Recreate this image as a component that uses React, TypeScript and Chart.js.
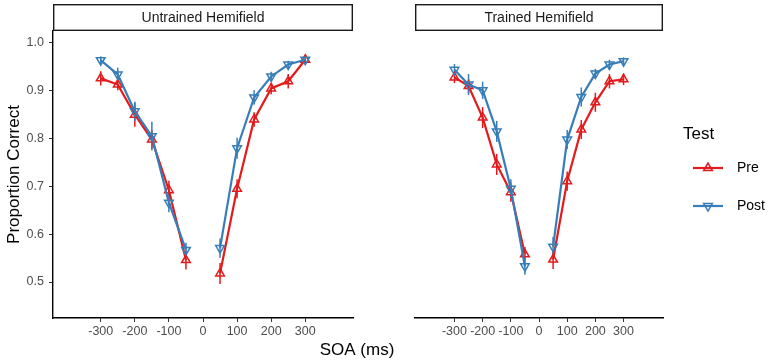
import { useEffect, useRef } from "react";
import { Chart, registerables } from "chart.js";

Chart.register(...registerables);

// Stimulus onset asynchrony conditions (ms)
const soa = [-300, -250, -200, -150, -100, -50, 50, 100, 150, 200, 250, 300];
const xTickValues = [-300, -200, -100, 0, 100, 200, 300];
const yTickValues = [0.5, 0.6, 0.7, 0.8, 0.9, 1.0];

// Untrained hemifield
const untrainedPre = [0.926, 0.913, 0.85, 0.798, 0.692, 0.546, 0.518, 0.695, 0.84, 0.905, 0.92, 0.965];
const untrainedPreErr = [0.015, 0.012, 0.025, 0.02, 0.02, 0.02, 0.022, 0.02, 0.015, 0.012, 0.015, 0.01];
const untrainedPost = [0.964, 0.934, 0.857, 0.805, 0.666, 0.567, 0.571, 0.78, 0.886, 0.93, 0.955, 0.965];
const untrainedPostErr = [0.008, 0.014, 0.02, 0.03, 0.02, 0.015, 0.02, 0.022, 0.015, 0.01, 0.008, 0.008];

// Trained hemifield
const trainedPre = [0.928, 0.91, 0.844, 0.746, 0.688, 0.558, 0.547, 0.711, 0.819, 0.876, 0.92, 0.924];
const trainedPreErr = [0.012, 0.015, 0.022, 0.022, 0.02, 0.015, 0.02, 0.02, 0.02, 0.02, 0.015, 0.012];
const trainedPost = [0.944, 0.913, 0.901, 0.815, 0.695, 0.533, 0.574, 0.798, 0.887, 0.936, 0.955, 0.962];
const trainedPostErr = [0.012, 0.022, 0.018, 0.022, 0.02, 0.018, 0.02, 0.02, 0.02, 0.01, 0.01, 0.008];

const RED = "#E41A1C";
const BLUE = "#377EB8";
const FONT = "'Liberation Sans', Arial, Helvetica, sans-serif";
const TICK_COLOR = "#4D4D4D";

const W = 768;
const H = 363;
const PANEL_TOP = 31;
const STRIP_TOP = 4;
const X_AXIS_HEIGHT = 45;
const Y_MIN = 0.4247;
const Y_MAX = 1.0251;
const X_MIN = -440;
const X_MAX = 440;

Chart.defaults.font.family = FONT;

type Series = { label: string; values: number[]; errors: number[]; color: string; rotation: number };

// Insert a break at 0 ms so the negative and positive branches are drawn separately
function toPoints(values: number[]) {
  const pts: { x: number; y: number | null }[] = [];
  soa.forEach((x, i) => {
    if (i > 0 && soa[i - 1] < 0 && x > 0) pts.push({ x: 0, y: null });
    pts.push({ x, y: values[i] });
  });
  return pts;
}

function drawTriangle(ctx: CanvasRenderingContext2D, x: number, y: number, r: number, down: boolean) {
  const s = down ? -1 : 1;
  ctx.beginPath();
  ctx.moveTo(x, y - s * r);
  ctx.lineTo(x + r * Math.sin((2 * Math.PI) / 3), y + s * r * 0.5);
  ctx.lineTo(x - r * Math.sin((2 * Math.PI) / 3), y + s * r * 0.5);
  ctx.closePath();
  ctx.stroke();
}

function makeConfig(opts: {
  strip: string;
  series: Series[];
  padLeft: number;
  padRight: number;
  showY: boolean;
  drawLegend: boolean;
  drawTitles: boolean;
}): any {
  const { strip, series, padLeft, padRight, showY, drawLegend, drawTitles } = opts;

  const panelPlugin = {
    id: "panelDecor",
    beforeDatasetsDraw(chart: any) {
      const { ctx, scales } = chart;
      const xs = scales.x;
      const ys = scales.y;
      ctx.save();
      ctx.lineWidth = 1.5;
      series.forEach((s) => {
        ctx.strokeStyle = s.color;
        soa.forEach((x, i) => {
          const px = xs.getPixelForValue(x);
          const top = ys.getPixelForValue(s.values[i] + s.errors[i]);
          const bot = ys.getPixelForValue(s.values[i] - s.errors[i]);
          ctx.beginPath();
          ctx.moveTo(px, top);
          ctx.lineTo(px, bot);
          ctx.stroke();
        });
      });
      ctx.restore();
    },
    afterDraw(chart: any) {
      const { ctx, chartArea } = chart;
      ctx.save();
      // facet strip
      ctx.fillStyle = "#FFFFFF";
      ctx.fillRect(chartArea.left, STRIP_TOP, chartArea.right - chartArea.left, PANEL_TOP - STRIP_TOP);
      ctx.strokeStyle = "#1A1A1A";
      ctx.lineWidth = 1.4;
      ctx.strokeRect(chartArea.left + 0.7, STRIP_TOP + 0.7, chartArea.right - chartArea.left - 1.4, PANEL_TOP - STRIP_TOP - 1.4);
      ctx.fillStyle = "#1A1A1A";
      ctx.font = `14px ${FONT}`;
      ctx.textAlign = "center";
      ctx.textBaseline = "middle";
      ctx.fillText(strip, (chartArea.left + chartArea.right) / 2, (STRIP_TOP + PANEL_TOP) / 2 + 0.5);

      if (drawTitles) {
        ctx.fillStyle = "#000000";
        ctx.font = `17px ${FONT}`;
        ctx.textAlign = "center";
        ctx.textBaseline = "middle";
        ctx.fillText("SOA (ms)", 357, 350);
        ctx.save();
        ctx.translate(14, (PANEL_TOP + chartArea.bottom) / 2);
        ctx.rotate(-Math.PI / 2);
        ctx.fillText("Proportion Correct", 0, 0);
        ctx.restore();
      }

      if (drawLegend) {
        ctx.fillStyle = "#000000";
        ctx.font = `17px ${FONT}`;
        ctx.textAlign = "left";
        ctx.textBaseline = "middle";
        ctx.fillText("Test", 683, 134);
        const rows = [168, 206];
        series.forEach((s, i) => {
          const y = rows[i];
          ctx.strokeStyle = s.color;
          ctx.lineWidth = 2.2;
          ctx.beginPath();
          ctx.moveTo(693, y);
          ctx.lineTo(723, y);
          ctx.stroke();
          ctx.lineWidth = 1.5;
          drawTriangle(ctx, 708, y, 5, s.rotation === 180);
          ctx.fillStyle = "#000000";
          ctx.font = `14px ${FONT}`;
          ctx.fillText(s.label, 737, y + 0.5);
        });
      }
      ctx.restore();
    },
  };

  return {
    type: "line",
    data: {
      datasets: series.map((s, i) => ({
        label: s.label,
        data: toPoints(s.values),
        borderColor: s.color,
        backgroundColor: s.color,
        borderWidth: 2.2,
        tension: 0,
        spanGaps: false,
        pointStyle: "triangle",
        pointRotation: s.rotation,
        pointRadius: 5,
        pointBorderWidth: 1.5,
        pointBorderColor: s.color,
        pointBackgroundColor: "rgba(0,0,0,0)",
        order: series.length - i,
      })),
    },
    options: {
      responsive: false,
      animation: false,
      devicePixelRatio: 1,
      layout: { padding: { top: PANEL_TOP, left: padLeft, right: padRight, bottom: 0 } },
      plugins: { legend: { display: false }, tooltip: { enabled: false } },
      events: [],
      scales: {
        x: {
          type: "linear",
          min: X_MIN,
          max: X_MAX,
          afterBuildTicks: (s: any) => {
            s.ticks = xTickValues.map((v) => ({ value: v }));
          },
          afterFit: (s: any) => {
            s.height = X_AXIS_HEIGHT;
          },
          grid: { drawOnChartArea: false, drawTicks: true, tickLength: 4, color: "#333333", lineWidth: 1 },
          border: { display: true, color: "#000000", width: 1.4 },
          ticks: {
            color: TICK_COLOR,
            font: { family: FONT, size: 12.5 },
            padding: 2,
            maxRotation: 0,
            autoSkip: false,
            callback: (v: any) => String(v),
          },
        },
        y: {
          type: "linear",
          display: showY,
          min: Y_MIN,
          max: Y_MAX,
          afterBuildTicks: (s: any) => {
            s.ticks = yTickValues.map((v) => ({ value: v }));
          },
          afterFit: (s: any) => {
            s.width = 53;
          },
          grid: { drawOnChartArea: false, drawTicks: true, tickLength: 4, color: "#333333", lineWidth: 1 },
          border: { display: true, color: "#000000", width: 1.4 },
          ticks: {
            color: TICK_COLOR,
            font: { family: FONT, size: 12.5 },
            padding: 5,
            callback: (v: any) => Number(v).toFixed(1),
          },
        },
      },
    },
    plugins: [panelPlugin],
  };
}

export default function App() {
  const leftRef = useRef<HTMLCanvasElement>(null);
  const rightRef = useRef<HTMLCanvasElement>(null);

  useEffect(() => {
    const left = new Chart(
      leftRef.current!,
      makeConfig({
        strip: "Untrained Hemifield",
        series: [
          { label: "Pre", values: untrainedPre, errors: untrainedPreErr, color: RED, rotation: 0 },
          { label: "Post", values: untrainedPost, errors: untrainedPostErr, color: BLUE, rotation: 180 },
        ],
        padLeft: 0,
        padRight: W - 353,
        showY: true,
        drawLegend: false,
        drawTitles: true,
      })
    );
    const right = new Chart(
      rightRef.current!,
      makeConfig({
        strip: "Trained Hemifield",
        series: [
          { label: "Pre", values: trainedPre, errors: trainedPreErr, color: RED, rotation: 0 },
          { label: "Post", values: trainedPost, errors: trainedPostErr, color: BLUE, rotation: 180 },
        ],
        padLeft: 362,
        padRight: W - 663,
        showY: false,
        drawLegend: true,
        drawTitles: false,
      })
    );
    return () => {
      left.destroy();
      right.destroy();
    };
  }, []);

  return (
    <div style={{ position: "fixed", left: 0, top: 0, width: W, height: H, background: "#FFFFFF" }}>
      <canvas ref={leftRef} width={W} height={H} style={{ position: "absolute", left: 0, top: 0 }} />
      <canvas ref={rightRef} width={W} height={H} style={{ position: "absolute", left: 0, top: 0 }} />
    </div>
  );
}
